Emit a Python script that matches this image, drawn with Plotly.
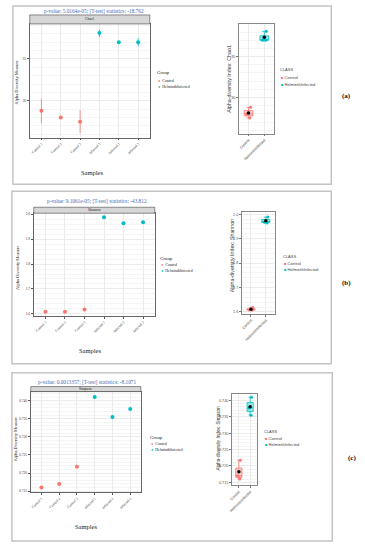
import plotly.graph_objects as go
import numpy as np

W, H = 365, 550

samples = ["Control 1", "Control 2", "Control 3", "Infected 1", "Infected 2", "Infected 3"]
groups = ["Control", "Control", "Control", "HelminthInfected", "HelminthInfected", "HelminthInfected"]
classes = ["Control", "HelminthInfected"]
colors = {"Control": "#F8766D", "HelminthInfected": "#00BFC4"}
fills = {"Control": "rgba(248,118,109,0.35)", "HelminthInfected": "rgba(0,191,196,0.35)"}

chao1 = [28.8, 28.0, 27.5, 38.1, 37.0, 37.0]
chao1_se = [1.45, 0.0, 1.35, 0.45, 0.0, 0.5]
shannon = [1.608, 1.608, 1.618, 1.988, 1.964, 1.968]
simpson = [0.7160, 0.7170, 0.7217, 0.7410, 0.7355, 0.7377]

titles = ["p-value: 5.0164e-05; [T-test] statistics: -18.762",
          "p-value: 9.1061e-05; [T-test] statistics: -43.812",
          "p-value: 0.0013357; [T-test] statistics: -8.1071"]
strip_names = ["Chao1", "Shannon", "Simpson"]
index_titles = ["Alpha-diversity Index: Chao1", "Alpha-diversity Index: Shannon",
                "Alpha-diversity Index: Simpson"]
panel_labels = ["(a)", "(b)", "(c)"]


def fx(x):
    return x / W


def fy(y):
    return 1 - y / H


SERIF = "Liberation Serif"
SANS = "Liberation Sans"

panels = [
    dict(vals=chao1, se=chao1_se,
         L=dict(x=(27, 148), y=(23, 137), yr=(25.6, 39.2), dtick=5, fmt="d"),
         R=dict(x=(238, 273), y=(23, 133), yr=(25.6, 39.0), dtick=5, fmt="d"),
         title=(92, 10), strip=(14, 23), samples=(90, 172), ytitle=(14, 82),
         leg=(154, 72, 80, 86), rytitle=(228, 78), rtsize=5.3, rleg=(278, 69, 77, 84),
         label=(346, 95), box=(10, 5, 331, 184)),
    dict(vals=shannon, se=None,
         L=dict(x=(31, 153), y=(213, 316), yr=(1.592, 2.004), dtick=0.1, fmt=".1f"),
         R=dict(x=(241, 274), y=(212, 314), yr=(1.592, 2.008), dtick=0.1, fmt=".1f"),
         title=(95, 201), strip=(207, 213), samples=(88, 351), ytitle=(14, 268),
         leg=(157, 258, 265, 271), rytitle=(231, 256), rtsize=5.3, rleg=(281, 256, 263, 269),
         label=(346, 283), box=(9, 191, 331, 364)),
    dict(vals=simpson, se=None,
         L=dict(x=(28, 139), y=(392, 493), yr=(0.7147, 0.7425), dtick=0.005, fmt=".3f"),
         R=dict(x=(231, 256), y=(394, 486), yr=(0.7141, 0.7421), dtick=0.005, fmt=".3f"),
         title=(85, 382), strip=(387, 392), samples=(84, 527), ytitle=(12, 440),
         leg=(147, 438, 445, 451), rytitle=(217, 439), rtsize=4.7, rleg=(262, 432, 439, 445),
         label=(352, 459), box=(9, 373, 332, 542)),
]

fig = go.Figure()
layout = dict(width=W, height=H, margin=dict(l=0, r=0, t=0, b=0),
              paper_bgcolor="white", plot_bgcolor="white", showlegend=False)
shapes = []
annotations = []


def note(x, y, text, font, xanchor="center", angle=0):
    annotations.append(dict(x=fx(x), y=fy(y), xref="paper", yref="paper", text=text,
                            showarrow=False, xanchor=xanchor, yanchor="middle",
                            textangle=angle, borderpad=0, font=font))


for i, p in enumerate(panels):
    ia = 2 * i + 1
    ib = 2 * i + 2
    xa, ya = f"x{ia}", f"y{ia}"
    xb, yb = f"x{ib}", f"y{ib}"
    L, R = p["L"], p["R"]

    # left: per-sample scatter
    for g in classes:
        idx = [k for k, gg in enumerate(groups) if gg == g]
        tr = dict(x=[samples[k] for k in idx], y=[p["vals"][k] for k in idx],
                  mode="markers", marker=dict(color=colors[g], size=4),
                  xaxis=xa, yaxis=ya, hoverinfo="x+y")
        if p["se"] is not None:
            tr["error_y"] = dict(type="data", array=[p["se"][k] for k in idx],
                                 color=colors[g], thickness=0.8, width=0)
        fig.add_trace(go.Scatter(**tr))

    # right: box plots per class
    for g in classes:
        v = [p["vals"][k] for k, gg in enumerate(groups) if gg == g]
        fig.add_trace(go.Box(x=[g] * len(v), y=v, xaxis=xb, yaxis=yb,
                             boxpoints="all", jitter=0.6, pointpos=0,
                             quartilemethod="inclusive", width=0.55,
                             fillcolor=fills[g],
                             line=dict(color=colors[g], width=0.8),
                             marker=dict(color=colors[g], size=3)))
        fig.add_trace(go.Scatter(x=[g], y=[float(np.mean(v))], mode="markers",
                                 marker=dict(color="black", size=3.5),
                                 xaxis=xb, yaxis=yb))

    gridc = "#ebebeb"
    layout[f"xaxis{ia}"] = dict(domain=[fx(L["x"][0]), fx(L["x"][1])], anchor=ya,
                                type="category", categoryorder="array", categoryarray=samples,
                                range=[-0.6, 5.6], showgrid=True, gridcolor=gridc, gridwidth=0.6,
                                tickangle=-45, tickfont=dict(family=SERIF, size=3.6, color="#333"),
                                ticks="outside", ticklen=2, tickcolor="#555",
                                showline=True, mirror=True, linecolor="#666", linewidth=0.8,
                                zeroline=False, fixedrange=True)
    layout[f"yaxis{ia}"] = dict(domain=[fy(L["y"][1]), fy(L["y"][0])], anchor=xa,
                                range=list(L["yr"]), dtick=L["dtick"], tickformat=L["fmt"],
                                showgrid=True, gridcolor=gridc, gridwidth=0.6,
                                minor=dict(showgrid=True, gridcolor="#f5f5f5", gridwidth=0.4),
                                tickfont=dict(family=SERIF, size=3.6, color="#333"),
                                ticks="outside", ticklen=2, tickcolor="#555",
                                showline=True, mirror=True, linecolor="#666", linewidth=0.8,
                                zeroline=False, fixedrange=True)
    layout[f"xaxis{ib}"] = dict(domain=[fx(R["x"][0]), fx(R["x"][1])], anchor=yb,
                                type="category", categoryorder="array", categoryarray=classes,
                                range=[-0.6, 1.6], showgrid=True, gridcolor=gridc, gridwidth=0.6,
                                tickangle=-45, tickfont=dict(family=SANS, size=3.8, color="#444"),
                                ticks="outside", ticklen=2, tickcolor="#777",
                                showline=True, mirror=True, linecolor="#888", linewidth=0.8,
                                zeroline=False, fixedrange=True)
    layout[f"yaxis{ib}"] = dict(domain=[fy(R["y"][1]), fy(R["y"][0])], anchor=xb,
                                range=list(R["yr"]), dtick=R["dtick"], tickformat=R["fmt"],
                                showgrid=True, gridcolor=gridc, gridwidth=0.6,
                                minor=dict(showgrid=True, gridcolor="#f5f5f5", gridwidth=0.4),
                                tickfont=dict(family=SANS, size=3.8, color="#555"),
                                ticks="outside", ticklen=2, tickcolor="#777",
                                showline=True, mirror=True, linecolor="#888", linewidth=0.8,
                                zeroline=False, fixedrange=True)

    # outer frame
    b = p["box"]
    shapes.append(dict(type="rect", xref="paper", yref="paper",
                       x0=fx(b[0]), x1=fx(b[2]), y0=fy(b[3]), y1=fy(b[1]),
                       line=dict(color="#c4c4c4", width=1.5), fillcolor="rgba(0,0,0,0)"))
    # strip
    s = p["strip"]
    shapes.append(dict(type="rect", xref="paper", yref="paper",
                       x0=fx(L["x"][0]), x1=fx(L["x"][1]), y0=fy(s[1]), y1=fy(s[0]),
                       line=dict(color="#444", width=0.6), fillcolor="#d6d6d6"))
    note((L["x"][0] + L["x"][1]) / 2, (s[0] + s[1]) / 2, strip_names[i],
         dict(family=SERIF, size=3.6, color="#222"))
    # title
    note(p["title"][0], p["title"][1], titles[i], dict(family=SERIF, size=5.3, color="#3d6cb8"))
    # Samples
    note(p["samples"][0], p["samples"][1], "Samples", dict(family=SERIF, size=6.5, color="#222"))
    # left y title
    note(p["ytitle"][0], p["ytitle"][1], "Alpha Diversity Measure",
         dict(family=SERIF, size=4.4, color="#222"), angle=-90)
    # left legend
    lg = p["leg"]
    note(lg[0], lg[1], "Group", dict(family=SERIF, size=4.8, color="#222"), xanchor="left")
    for g, yy in zip(classes, lg[2:]):
        note(lg[0] + 1, yy, f"<span style='color:{colors[g]}'>●</span>  {g}",
             dict(family=SERIF, size=3.9, color="#222"), xanchor="left")
    # right y title
    note(p["rytitle"][0], p["rytitle"][1], index_titles[i],
         dict(family=SANS, size=p["rtsize"], color="#333"), angle=-90)
    rl = p["rleg"]
    note(rl[0], rl[1], "CLASS", dict(family=SANS, size=4.0, color="#444"), xanchor="left")
    for g, yy in zip(classes, rl[2:]):
        note(rl[0] + 1, yy, f"<span style='color:{colors[g]}'>■</span> {g}",
             dict(family=SANS, size=4.1, color="#444"), xanchor="left")
    # panel label
    note(p["label"][0], p["label"][1], f"<b>{panel_labels[i]}</b>",
         dict(family=SERIF, size=7, color="#111"))

layout["shapes"] = shapes
layout["annotations"] = annotations
fig.update_layout(**layout)
fig.write_html("out.html", config={"displayModeBar": False},
               post_script="document.body.style.margin='0';"
                           "document.documentElement.style.overflow='hidden';")
